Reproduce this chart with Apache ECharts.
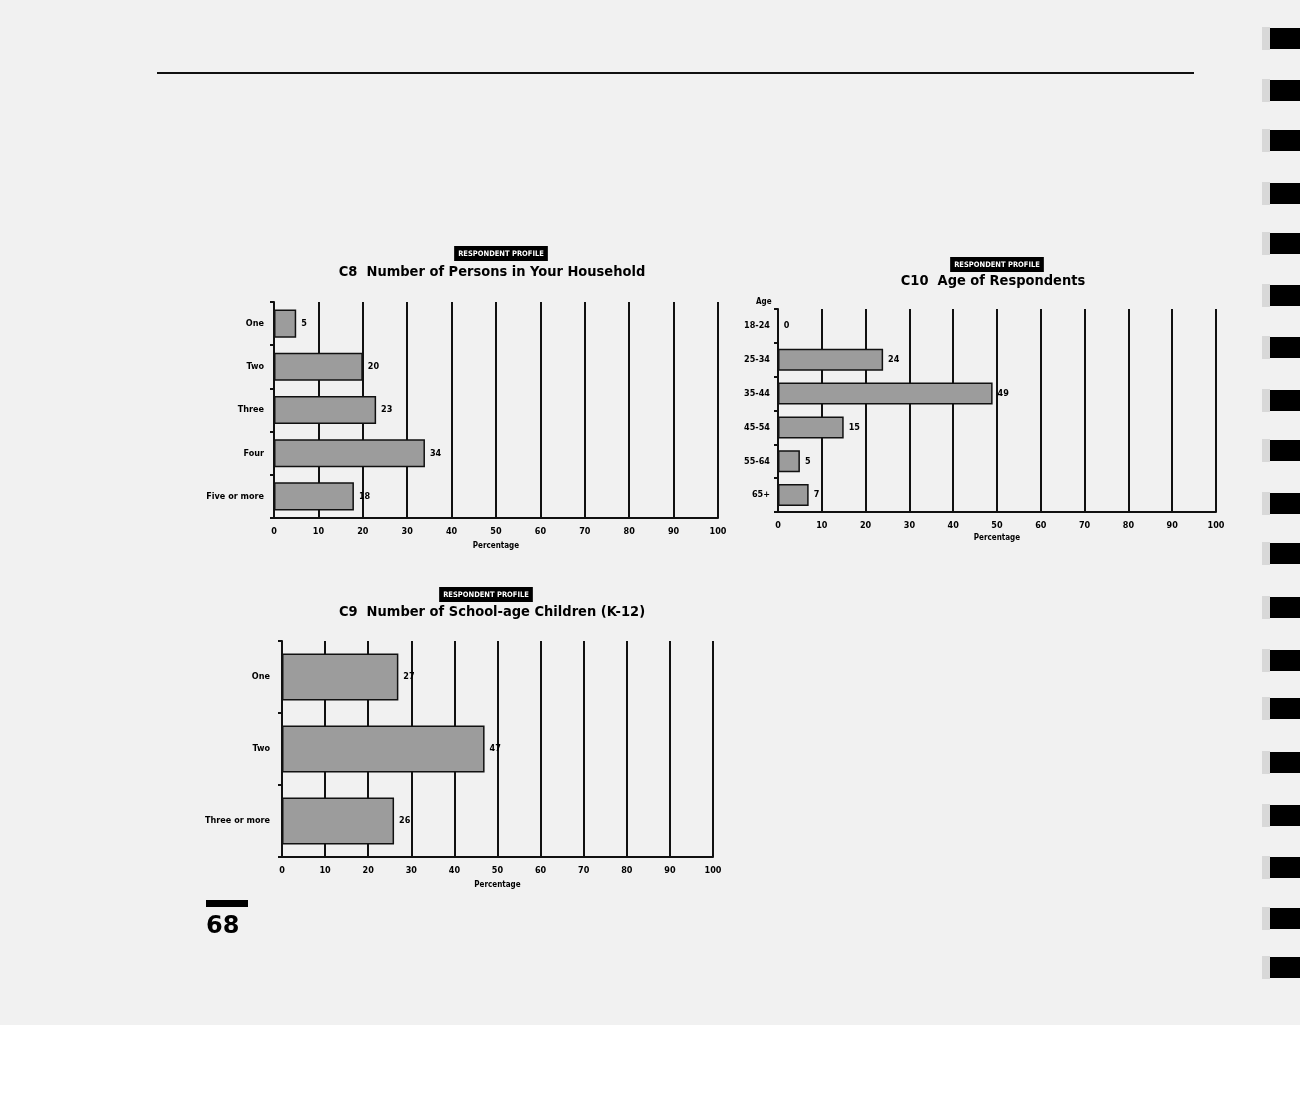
<!DOCTYPE html>
<html>
<head>
<meta charset="utf-8">
<script src="https://cdn.jsdelivr.net/npm/echarts@6/dist/echarts.min.js"></script>
<style>
  html, body { margin: 0; padding: 0; background: #ffffff; }
  #chart { width: 1300px; height: 1115px; }
</style>
</head>
<body>
<div id="chart"></div>
<script>
// ---- data ----
const c8Categories = ['One', 'Two', 'Three', 'Four', 'Five or more'];
const c8Values = [5, 20, 23, 34, 18];

const c10Categories = ['18-24', '25-34', '35-44', '45-54', '55-64', '65+'];
const c10Values = [0, 24, 49, 15, 5, 7];

const c9Categories = ['One', 'Two', 'Three or more'];
const c9Values = [27, 47, 26];

const xTickLabels = ['0', '10', '20', '30', '40', '50', '60', '70', '80', '90', '100'];

const c8Title = 'C8  Number of Persons in Your Household';
const c10Title = 'C10  Age of Respondents';
const c9Title = 'C9  Number of School-age Children (K-12)';
const badgeText = 'RESPONDENT PROFILE';
const xName = 'Percentage';
const ageName = 'Age';
const pageNumber = '68';

// ---- styles ----
const FONT = "'Liberation Sans Narrow', 'DejaVu Sans Condensed', 'Open Sans', sans-serif";
const INK = '#111111';
const BAR = '#9c9c9c';
const PAGE = '#f1f1f1';

const chart = echarts.init(document.getElementById('chart'), null, { renderer: 'canvas' });

function badge(x, y) {
  return {
    text: badgeText, left: x, top: y, textAlign: 'center',
    backgroundColor: '#000', padding: [4, 4, 3, 4],
    textStyle: { color: '#fff', fontSize: 7.5, fontWeight: 'bold', fontFamily: FONT }
  };
}
function mainTitle(text, x, y) {
  return {
    text: text, left: x, top: y, textAlign: 'center', padding: 0,
    textStyle: { color: '#000', fontSize: 14.5, fontWeight: 'bold', fontFamily: FONT }
  };
}

function xAxisFor(gridIndex, nameGap) {
  return {
    type: 'value', gridIndex: gridIndex, min: 0, max: 100, interval: 10,
    name: xName, nameLocation: 'middle', nameGap: nameGap,
    nameTextStyle: { color: '#000', fontSize: 8, fontWeight: 'bold', fontFamily: FONT },
    axisLine: { show: true, onZero: false, lineStyle: { color: INK, width: 2 } },
    axisTick: { show: false },
    axisLabel: {
      color: '#000', fontSize: 9, fontWeight: 'bold', fontFamily: FONT, margin: 9,
      formatter: function (v) { return xTickLabels[Math.round(v / 10)]; }
    },
    splitLine: { show: true, lineStyle: { color: INK, width: 2 } }
  };
}
function yAxisFor(gridIndex, cats, margin) {
  return {
    type: 'category', gridIndex: gridIndex, data: cats, inverse: true,
    axisLine: { show: true, lineStyle: { color: INK, width: 2 } },
    axisTick: { show: true, length: 4, lineStyle: { color: INK, width: 2 } },
    axisLabel: { color: '#000', fontSize: 9, fontWeight: 'bold', fontFamily: FONT, margin: margin },
    splitLine: { show: false }
  };
}
function barSeries(idx, values) {
  return {
    type: 'bar', xAxisIndex: idx, yAxisIndex: idx, data: values,
    barCategoryGap: '35%',
    itemStyle: { color: BAR, borderColor: INK, borderWidth: 1.5 },
    label: {
      show: true, position: 'right', distance: 5,
      color: '#000', fontSize: 9, fontWeight: 'bold', fontFamily: FONT
    },
    silent: true, animation: false
  };
}

// binding marks on right edge (decoration)
const ringY = [28, 80, 130, 183, 233, 285, 337, 390, 440, 493, 543, 597, 650, 698, 752, 805, 857, 908, 957];
const graphics = [
  { type: 'rect', shape: { x: 0, y: 0, width: 1300, height: 1025 }, style: { fill: PAGE }, z: -10 },
  { type: 'rect', shape: { x: 157, y: 72, width: 1037, height: 2 }, style: { fill: INK } },
  { type: 'rect', shape: { x: 206, y: 900, width: 42, height: 7 }, style: { fill: '#000' } },
  { type: 'text', left: 206, top: 915, style: { text: pageNumber, fill: '#000', font: 'bold 24px "DejaVu Sans", sans-serif' } },
  { type: 'text', left: 756, top: 298, style: { text: ageName, fill: '#000', font: 'bold 8px ' + FONT } }
];
ringY.forEach(function (y) {
  graphics.push({ type: 'rect', shape: { x: 1262, y: y - 1, width: 8, height: 23 }, style: { fill: '#d8d8d8' } });
  graphics.push({ type: 'rect', shape: { x: 1270, y: y, width: 30, height: 21 }, style: { fill: '#000' } });
});

const option = {
  backgroundColor: '#ffffff',
  animation: false,
  title: [
    badge(497, 246), mainTitle(c8Title, 492, 265),
    badge(993, 257), mainTitle(c10Title, 993, 274),
    badge(482, 587), mainTitle(c9Title, 492, 605)
  ],
  grid: [
    { left: 274, top: 302, width: 444, height: 216 },
    { left: 778, top: 309, width: 438, height: 203 },
    { left: 282, top: 641, width: 431, height: 216 }
  ],
  xAxis: [xAxisFor(0, 24), xAxisFor(1, 22), xAxisFor(2, 24)],
  yAxis: [yAxisFor(0, c8Categories, 10), yAxisFor(1, c10Categories, 8), yAxisFor(2, c9Categories, 12)],
  series: [barSeries(0, c8Values), barSeries(1, c10Values), barSeries(2, c9Values)],
  graphic: graphics
};
chart.setOption(option);
</script>
</body>
</html>
